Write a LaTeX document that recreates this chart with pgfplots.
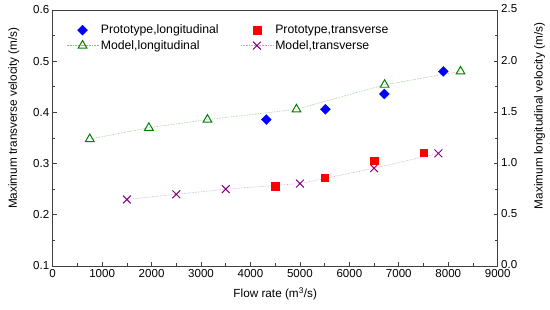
\documentclass[border=0pt]{standalone}
\usepackage{pgfplots}
\pgfplotsset{compat=1.18}
\usepackage{fontspec}
\setmainfont{Liberation Sans}
\definecolor{dgreen}{RGB}{0,128,0}
\definecolor{lgreen}{RGB}{130,195,130}
\definecolor{dpurple}{RGB}{128,0,128}
\definecolor{lpink}{RGB}{220,150,200}
\pgfplotsset{
  common/.style={
    scale only axis, width=445bp, height=256bp,
    xmin=0, xmax=9000,
    /pgf/number format/assume math mode=true,
    tick label style={font=\fontsize{11.6}{13}\selectfont},
    label style={font=\fontsize{11.8}{13}\selectfont},
    tick align=inside, major tick length=4bp, minor tick length=2.5bp,
    axis line style={line width=0.8pt, black!75},
    tick style={line width=0.7pt, black!75},
    legend image code/.code={\draw[mark repeat=2,mark phase=2,##1] plot coordinates {(0bp,0bp) (16bp,0bp) (32bp,0bp)};},
  }
}
\begin{document}
\begin{tikzpicture}
\begin{axis}[common,
  ymin=0.1, ymax=0.6,
  xtick={0,1000,...,9000}, minor x tick num=1,
  ytick={0.1,0.2,...,0.6}, minor y tick num=1,
  xtick pos=bottom, ytick pos=left,
  x tick label style={/pgf/number format/1000 sep={}},
  y tick label style={/pgf/number format/.cd, fixed, fixed zerofill, precision=1},
  xlabel={Flow rate (m\textsuperscript{3}/s)},
  ylabel={Maximum transverse velocity (m/s)},
  xlabel style={yshift=-3bp},
  ylabel style={at={(ticklabel cs:0.578)}, yshift=7bp},
]
\addplot[lpink, densely dotted, line width=0.6pt, mark=x, mark size=5.5bp, mark options={dpurple, solid, line width=1pt}]
  coordinates {(1500,0.230) (2500,0.240) (3500,0.250) (5000,0.261) (6500,0.291) (7800,0.320)};
\addplot[only marks, mark=square*, mark size=3.8bp, color=red]
  coordinates {(4500,0.256) (5500,0.2725) (6500,0.306) (7500,0.321)};
\end{axis}
\begin{axis}[common,
  ymin=0, ymax=2.5,
  axis x line=none, axis y line*=right,
  ytick={0,0.5,...,2.5}, minor y tick num=1,
  y tick label style={yshift=1bp, /pgf/number format/.cd, fixed, fixed zerofill, precision=1},
  ylabel={Maximum longitudinal velocity (m/s)},
  ylabel style={at={(ticklabel cs:0.586)}, yshift=-10bp},
  legend columns=2,
  legend style={draw=none, fill=none, at={(0.03,0.95)}, anchor=north west,
    font=\fontsize{12.3}{13}\selectfont, inner sep=0pt, row sep=1bp,
    /tikz/every even column/.append style={column sep=20bp}},
  legend cell align=left,
]
\addplot[only marks, mark=square*, mark size=3.5bp, mark options={rotate=45}, color=blue]
  coordinates {(4320,1.43) (5515,1.53) (6707,1.68) (7900,1.90)};
\addlegendentry{Prototype,longitudinal}
\addlegendimage{only marks, mark=square*, mark size=3.8bp, color=red}
\addlegendentry{Prototype,transverse}
\addplot[lgreen, densely dotted, line width=0.6pt, mark=triangle, mark size=5bp, mark options={dgreen, solid, line width=1pt}]
  coordinates {(750,1.24) (1945,1.35) (3130,1.43) (4930,1.53) (6713,1.77) (8248,1.90)};
\addlegendentry{Model,longitudinal}
\addlegendimage{lpink, densely dotted, line width=0.6pt, mark=x, mark size=5.5bp, mark options={dpurple, solid, line width=1pt}}
\addlegendentry{Model,transverse}
\end{axis}
\pgfresetboundingbox
\path (-52.7bp,-44bp) rectangle (497.3bp,266bp);
\end{tikzpicture}
\end{document}
